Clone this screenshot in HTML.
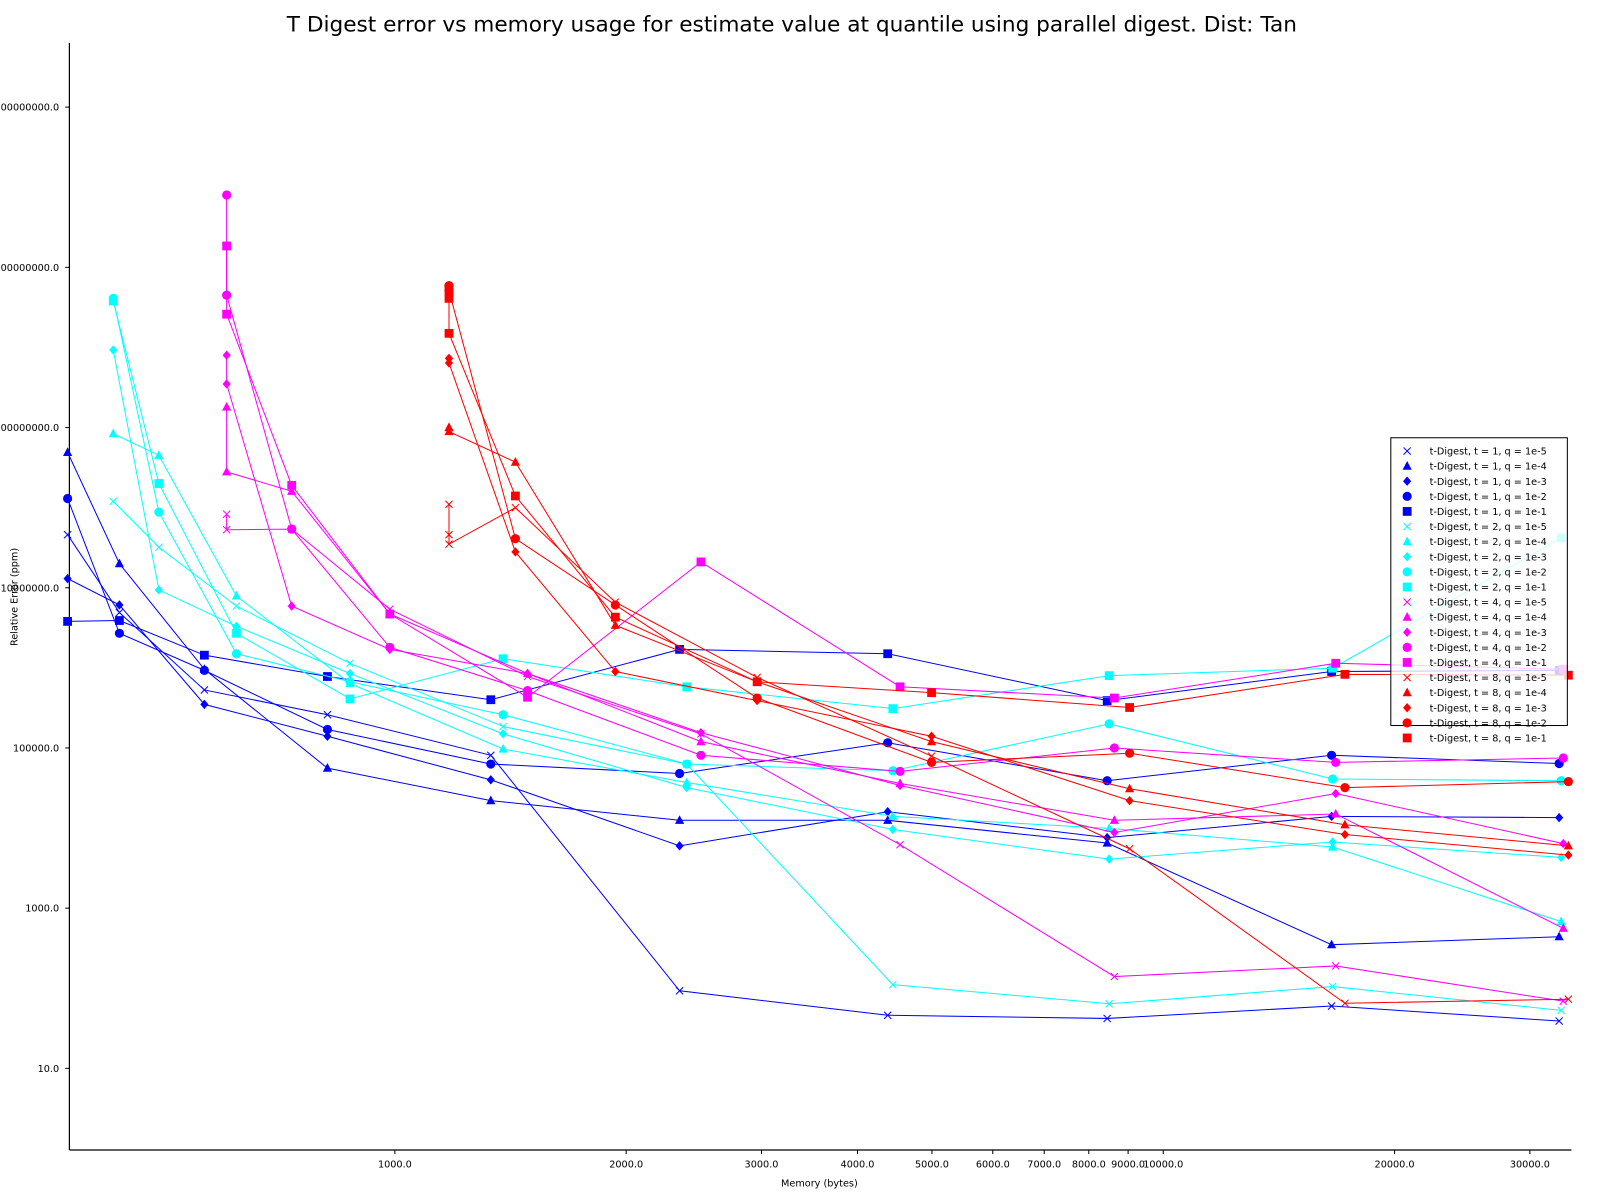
<!DOCTYPE html>
<html><head><meta charset="utf-8"><style>
html,body{margin:0;padding:0;background:#fff;}
svg{display:block;font-family:"DejaVu Sans","Liberation Sans",sans-serif;}
</style></head><body>
<svg id="chart" width="1600" height="1200" viewBox="0 0 1568 1176" xmlns="http://www.w3.org/2000/svg">
<text x="776" y="31" font-size="21.2" text-anchor="middle">T Digest error vs memory usage for estimate value at quantile using parallel digest. Dist: Tan</text>
<text x="803" y="1163" font-size="9.5" text-anchor="middle">Memory (bytes)</text>
<text x="17" y="585" font-size="9.5" text-anchor="middle" transform="rotate(-90 17 585)">Relative Error (ppm)</text>
<g id="axes"></g>
<g id="series"></g>
<g id="legend"></g>
</svg>
<script>
const memT1 = [375,438,565,817,1333,2347,4379,8453,16562,32750];
const memT2 = [430,493,622,874,1383,2398,4447,8504,16612,32950];
const memT4 = [604,604,734,985,1488,2502,4544,8637,16767,33160];
const memT8 = [1176,1176,1176,1435,1936,2961,4994,9041,17236,33670];

const t1q5 = [4.6e7,4.9e6,5.3e5,2.6e5,8.1e4,93,46,42,60,39];
const t1q4 = [4.9e8,2.0e7,9.6e5,5.6e4,2.2e4,1.25e4,1.25e4,6.5e3,350,440];
const t1q3 = [1.3e7,6.1e6,3.5e5,1.4e5,4.0e4,6.0e3,1.6e4,7.6e3,1.4e4,1.35e4];
const t1q2 = [1.3e8,2.7e6,9.3e5,1.7e5,6.3e4,4.8e4,1.16e5,3.9e4,8.1e4,6.4e4];
const t1q1 = [3.8e6,3.9e6,1.44e6,7.8e5,4.0e5,1.7e6,1.5e6,3.9e5,9.0e5,9.3e5];

const t2q5 = [1.2e8,3.2e7,5.9e6,1.14e6,1.85e5,6.3e4,111,64,105,53];
const t2q4 = [8.4e8,4.5e8,7.9e6,6.4e5,9.7e4,3.7e4,1.4e4,9.9e3,5.8e3,680];
const t2q3 = [9.3e9,9.4e6,3.3e6,8.5e5,1.5e5,3.2e4,9.6e3,4.1e3,6.7e3,4.3e3];
const t2q2 = [4.1e10,8.8e7,1.5e6,6.7e5,2.6e5,6.3e4,5.2e4,2.0e5,4.1e4,3.9e4];
const t2q1 = [3.8e10,2.0e8,2.7e6,4.1e5,1.3e6,5.8e5,3.1e5,8.0e5,9.9e5,4.2e7];

const t4q5 = [8.3e7,5.3e7,5.4e7,5.4e6,7.8e5,1.5e5,6.2e3,140,190,69];
const t4q4 = [1.8e9,2.8e8,1.6e8,4.7e6,8.5e5,1.2e5,3.6e4,1.25e4,1.5e4,560];
const t4q3 = [8.0e9,3.5e9,5.9e6,1.7e6,8.5e5,1.55e5,3.4e4,8.8e3,2.7e4,6.4e3];
const t4q2 = [8.0e11,4.5e10,5.4e7,1.8e6,5.2e5,8.1e4,5.1e4,1.0e5,6.6e4,7.5e4];
const t4q1 = [1.85e11,2.6e10,1.9e8,4.7e6,4.3e5,2.1e7,5.8e5,4.2e5,1.14e6,9.6e5];

const t8q5 = [1.1e8,4.6e7,3.5e7,1.0e8,6.6e6,7.6e5,7.9e4,5.5e3,65,73];
const t8q4 = [1.0e9,1.0e9,8.9e8,3.7e8,3.4e6,6.7e5,1.2e5,3.1e4,1.1e4,6.0e3];
const t8q3 = [7.3e9,7.3e9,6.4e9,2.8e7,9.0e5,3.9e5,1.4e5,2.2e4,8.3e3,4.6e3];
const t8q2 = [5.9e10,5.9e10,5.1e10,4.1e7,6.1e6,4.2e5,6.6e4,8.6e4,3.2e4,3.8e4];
const t8q1 = [5.1e10,4.1e10,1.5e10,1.4e8,4.3e6,6.7e5,4.9e5,3.2e5,8.3e5,8.1e5];

const xTickVals = [1000,2000,3000,4000,5000,6000,7000,8000,9000,10000,20000,30000];
const xTickLabels = ["1000.0","2000.0","3000.0","4000.0","5000.0","6000.0","7000.0","8000.0","9000.0","10000.0","20000.0","30000.0"];
const yTickVals = [10,1e3,1e5,1e7,1e9,1e11,1e13];
const yTickLabels = ["10.0","1000.0","100000.0","10000000.0","1000000000.0","100000000000.0","10000000000000.0"];
const legendLabels = ["t-Digest, t = 1, q = 1e-5","t-Digest, t = 1, q = 1e-4","t-Digest, t = 1, q = 1e-3","t-Digest, t = 1, q = 1e-2","t-Digest, t = 1, q = 1e-1","t-Digest, t = 2, q = 1e-5","t-Digest, t = 2, q = 1e-4","t-Digest, t = 2, q = 1e-3","t-Digest, t = 2, q = 1e-2","t-Digest, t = 2, q = 1e-1","t-Digest, t = 4, q = 1e-5","t-Digest, t = 4, q = 1e-4","t-Digest, t = 4, q = 1e-3","t-Digest, t = 4, q = 1e-2","t-Digest, t = 4, q = 1e-1","t-Digest, t = 8, q = 1e-5","t-Digest, t = 8, q = 1e-4","t-Digest, t = 8, q = 1e-3","t-Digest, t = 8, q = 1e-2","t-Digest, t = 8, q = 1e-1"];

const NS = "http://www.w3.org/2000/svg";
const L=68, R=1540, T=42, B=1127;
function xs(m){ return 387 + 753*(Math.log10(m)-3); }
function ys(v){ return 1047 - 78.5*(Math.log10(v)-1); }
function mk(tag, attrs, parent){ const e=document.createElementNS(NS,tag); for(const k in attrs) e.setAttribute(k,attrs[k]); parent.appendChild(e); return e; }

const axes=document.getElementById('axes');
let sp=mk('line',{x1:L,y1:T,x2:L,y2:B,stroke:'#000','stroke-width':1.2},axes);


sp=mk('line',{x1:L,y1:B,x2:R,y2:B,stroke:'#000','stroke-width':1.2},axes);


xTickVals.forEach((v,i)=>{
  const x=xs(v);
  const tk=mk('line',{x1:x,y1:B,x2:x,y2:B+4,stroke:'#000','stroke-width':1},axes);
  
  
  const t=mk('text',{x:x,y:B+17,'font-size':9.5,'text-anchor':'middle'},axes);
  t.textContent=xTickLabels[i];
  
  
});
yTickVals.forEach((v,i)=>{
  const y=ys(v);
  const tk=mk('line',{x1:L-4,y1:y,x2:L,y2:y,stroke:'#000','stroke-width':1},axes);
  
  
  const t=mk('text',{x:L-10,y:y+3.5,'font-size':9.5,'text-anchor':'end'},axes);
  t.textContent=yTickLabels[i];
  
  
});

const colors=['#0000ff','#00ffff','#ff00ff','#ff0000'];
const mems=[memT1,memT2,memT4,memT8];
const seriesVals=[[t1q5,t1q4,t1q3,t1q2,t1q1],[t2q5,t2q4,t2q3,t2q2,t2q1],[t4q5,t4q4,t4q3,t4q2,t4q1],[t8q5,t8q4,t8q3,t8q2,t8q1]];
const markerTypes=['x','tri','dia','circ','sq'];

function marker(type,x,y,c,parent){
  let e;
  if(type==='x'){ e=mk('path',{d:`M${x-3.5},${y-3.5}L${x+3.5},${y+3.5}M${x-3.5},${y+3.5}L${x+3.5},${y-3.5}`,stroke:c,'stroke-width':1,fill:'none'},parent); }
  else if(type==='tri'){ e=mk('path',{d:`M${x},${y-5}L${x+4.5},${y+3.5}L${x-4.5},${y+3.5}Z`,fill:c},parent); }
  else if(type==='dia'){ e=mk('path',{d:`M${x},${y-4.6}L${x+4},${y}L${x},${y+4.6}L${x-4},${y}Z`,fill:c},parent); }
  else if(type==='circ'){ e=mk('circle',{cx:x,cy:y,r:4.5,fill:c},parent); }
  else { e=mk('rect',{x:x-4.3,y:y-4.3,width:8.6,height:8.6,fill:c},parent); }
  return e;
}

const sg=document.getElementById('series');
seriesVals.forEach((grp,ti)=>{
  grp.forEach((vals,qi)=>{
    const g=mk('g',{},sg);
    
    
    const pts=vals.map((v,i)=>[xs(mems[ti][i]),ys(v)]);
    const pl=mk('polyline',{points:pts.map(p=>p.join(',')).join(' '),fill:'none',stroke:colors[ti],'stroke-width':1},g);
    
    
    pts.forEach(p=>{
      const m=marker(markerTypes[qi],p[0],p[1],colors[ti],g);
      
      
    });
  });
});

const lg=document.getElementById('legend');
const box=mk('rect',{x:1363,y:429,width:173,height:282,fill:'#fff','fill-opacity':0.8,stroke:'#000','stroke-width':1},lg);


legendLabels.forEach((lab,i)=>{
  const y=442+i*14.8;
  const g=mk('g',{},lg);
  
  
  marker(markerTypes[i%5],1379,y,colors[Math.floor(i/5)],g);
  const t=mk('text',{x:1401,y:y+3.5,'font-size':9.5},g);
  t.textContent=lab;
});
</script>
</body></html>
